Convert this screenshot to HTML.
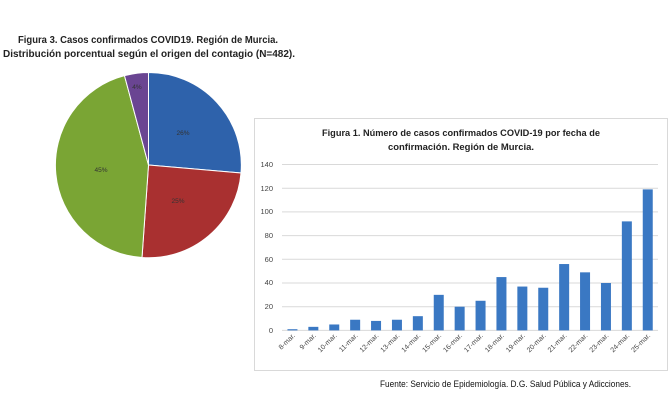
<!DOCTYPE html>
<html><head><meta charset="utf-8"><style>
body{margin:0;width:670px;height:400px;background:#fff;overflow:hidden;font-family:"Liberation Sans",sans-serif}
</style></head><body>
<svg width="670" height="400" viewBox="0 0 670 400" xmlns="http://www.w3.org/2000/svg" font-family="Liberation Sans, sans-serif">
<text x="18" y="43" textLength="260" lengthAdjust="spacingAndGlyphs" font-size="10.5" font-weight="bold" fill="#222">Figura 3. Casos confirmados COVID19. Región de Murcia.</text>
<text x="3" y="57" textLength="292" lengthAdjust="spacingAndGlyphs" font-size="10.5" font-weight="bold" fill="#222">Distribución porcentual según el origen del contagio (N=482).</text>
<g stroke="#fff" stroke-width="1">
<path d="M148.5,165 L148.5,72.5 A92.5,92.5 0 0 1 241,173 Z" fill="#2e62ab"/>
<path d="M148.5,165 L241,173 A92.5,92.5 0 0 1 142,257.5 Z" fill="#a93030"/>
<path d="M148.5,165 L142,257.5 A92.5,92.5 0 0 1 124.5,75.7 Z" fill="#7aa534"/>
<path d="M148.5,165 L124.5,75.7 A92.5,92.5 0 0 1 148.5,72.5 Z" fill="#6a4592"/>
</g>
<g font-size="6.5" fill="#333" text-anchor="middle">
<text x="183" y="135">26%</text><text x="178" y="203">25%</text><text x="101" y="172">45%</text><text x="137" y="89">4%</text>
</g>
<rect x="254.5" y="118.5" width="413" height="252" fill="#fff" stroke="#d9d9d9"/>
<text x="322" y="136" textLength="278" lengthAdjust="spacingAndGlyphs" font-size="9" font-weight="bold" fill="#222">Figura 1. Número de casos confirmados COVID-19 por fecha de</text>
<text x="388" y="150" textLength="146" lengthAdjust="spacingAndGlyphs" font-size="9" font-weight="bold" fill="#222">confirmación. Región de Murcia.</text>
<g stroke="#d9d9d9" stroke-width="1">
<line x1="282" x2="658" y1="164.5" y2="164.5"/><line x1="282" x2="658" y1="188.2" y2="188.2"/><line x1="282" x2="658" y1="211.9" y2="211.9"/><line x1="282" x2="658" y1="235.6" y2="235.6"/><line x1="282" x2="658" y1="259.3" y2="259.3"/><line x1="282" x2="658" y1="283" y2="283"/><line x1="282" x2="658" y1="306.7" y2="306.7"/><line x1="282" x2="658" y1="330.4" y2="330.4"/>
</g>
<g font-size="7.5" fill="#444" text-anchor="end">
<text x="273" y="167">140</text><text x="273" y="191">120</text><text x="273" y="214">100</text><text x="273" y="238">80</text><text x="273" y="262">60</text><text x="273" y="285">40</text><text x="273" y="309">20</text><text x="273" y="333">0</text>
</g>
<g fill="#3a78c3" id="bars"></g>
<g id="labs" font-size="7" fill="#444" text-anchor="end"></g>
<text x="380" y="387" textLength="251" lengthAdjust="spacingAndGlyphs" font-size="9" fill="#111">Fuente: Servicio de Epidemiología. D.G. Salud Pública y Adicciones.</text>
<script>
var v=[1,3,5,9,8,9,12,30,20,25,45,37,36,56,49,40,92,119];
var b=document.getElementById('bars'),l=document.getElementById('labs'),ns='http://www.w3.org/2000/svg';
for(var i=0;i<18;i++){var cx=282+20.9*(i+0.5),h=v[i]*1.185;
var r=document.createElementNS(ns,'rect');r.setAttribute('x',cx-5);r.setAttribute('y',330.4-h);r.setAttribute('width',10);r.setAttribute('height',h);b.appendChild(r);
var t=document.createElementNS(ns,'text');t.setAttribute('transform','translate('+(cx+3)+',336) rotate(-45)');t.textContent=(i+8)+'-mar.';l.appendChild(t);}
</script>
</svg>
</body></html>
